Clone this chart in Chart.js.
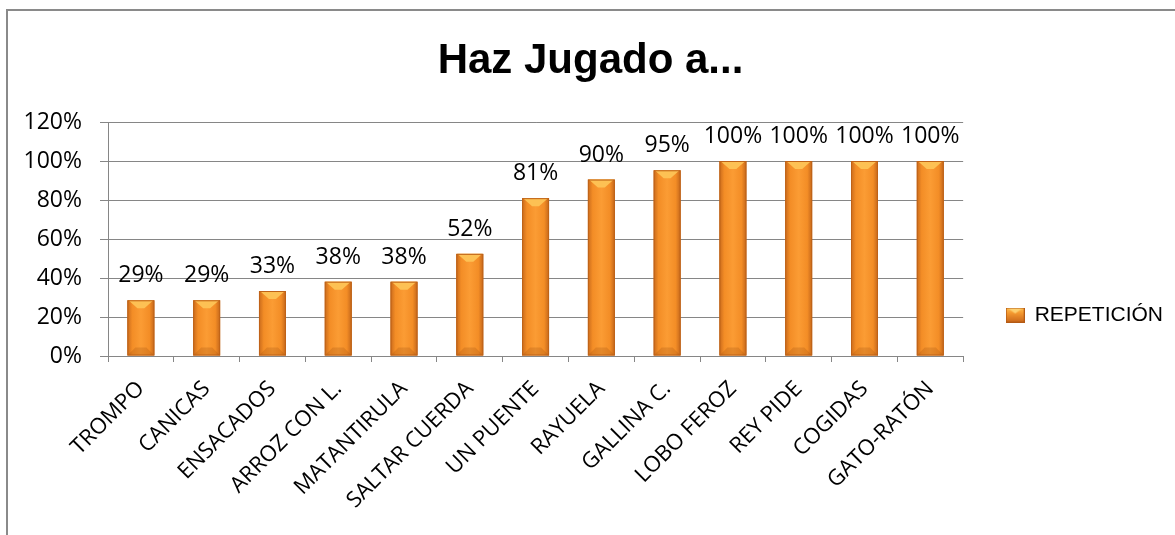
<!DOCTYPE html>
<html>

<head>
    <meta charset="utf-8">
    <script src="https://cdn.jsdelivr.net/npm/chart.js"></script>
    <style>
        html, body { margin: 0; padding: 0; background: #fff; }
        #wrap { position: relative; width: 1175px; height: 535px; overflow: hidden; }
        #frame { position: absolute; left: 6px; top: 9px; width: 1300px; height: 600px;
                 border-left: 2px solid #8a8a8a; border-top: 2px solid #8a8a8a; }
        canvas { position: absolute; left: 0; top: 0; }
    </style>
</head>

<body>
    <div id="wrap">
        <div id="frame"></div>
        <canvas id="chartId" width="1175" height="535"></canvas>
    </div>
    <script>
        // datos del grafico
        const categories = ['TROMPO', 'CANICAS', 'ENSACADOS', 'ARROZ CON L.', 'MATANTIRULA', 'SALTAR CUERDA',
            'UN PUENTE', 'RAYUELA', 'GALLINA C.', 'LOBO FEROZ', 'REY PIDE', 'COGIDAS', 'GATO-RATÓN'];
        const repeticion = [0.2857, 0.2857, 0.3333, 0.381, 0.381, 0.5238, 0.8095, 0.9048, 0.9524, 1, 1, 1, 1];
        const yTicks = [0, 0.2, 0.4, 0.6, 0.8, 1.0, 1.2];

        const pct = v => Math.round(v * 100) + '%';
        const gridColor = '#868686';
        const bodyFont = "'Open Sans', sans-serif";
        const titleFont = "'Liberation Sans', Arial, sans-serif";

        // pinta una barra con degradado y bisel al estilo Excel
        function paintBar(ctx, l, y, width, h) {
            const r = l + width;
            let g = ctx.createLinearGradient(l, 0, r, 0);
            g.addColorStop(0, '#c96a1c');
            g.addColorStop(0.18, '#f38d26');
            g.addColorStop(0.5, '#fb9c34');
            g.addColorStop(0.82, '#f38d26');
            g.addColorStop(1, '#c3661b');
            ctx.fillStyle = g;
            ctx.fillRect(l, y, width, h);
            const b = Math.min(8, h / 3);
            ctx.beginPath();
            ctx.moveTo(l + 1, y);
            ctx.lineTo(r - 1, y);
            ctx.lineTo(r - b - 2, y + b);
            ctx.lineTo(l + b + 2, y + b);
            ctx.closePath();
            ctx.fillStyle = '#fdc154';
            ctx.fill();
            ctx.beginPath();
            ctx.moveTo(l, y + h);
            ctx.lineTo(r, y + h);
            ctx.lineTo(r - b, y + h - b);
            ctx.lineTo(l + b, y + h - b);
            ctx.closePath();
            ctx.fillStyle = 'rgba(160,80,15,0.25)';
            ctx.fill();
            ctx.strokeStyle = '#bf6318';
            ctx.lineWidth = 1;
            ctx.strokeRect(l + 0.5, y + 0.5, width - 1, h - 1);
        }

        // marcador de la leyenda
        const marker = document.createElement('canvas');
        marker.width = 19;
        marker.height = 15;
        (function () {
            const c = marker.getContext('2d');
            const g = c.createLinearGradient(0, 0, 0, 15);
            g.addColorStop(0, '#fdc154');
            g.addColorStop(0.35, '#f59a30');
            g.addColorStop(1, '#c9661a');
            c.fillStyle = g;
            c.fillRect(0, 0, 19, 15);
            c.beginPath();
            c.moveTo(1, 0); c.lineTo(18, 0); c.lineTo(9.5, 6); c.closePath();
            c.fillStyle = '#fdd070';
            c.fill();
            c.strokeStyle = '#b45a14';
            c.strokeRect(0.5, 0.5, 18, 14);
        })();

        const barStyle = {
            id: 'barStyle',
            afterDatasetsDraw(chart) {
                const ctx = chart.ctx;
                const meta = chart.getDatasetMeta(0);
                meta.data.forEach((bar, i) => {
                    const { x, y, width, base } = bar.getProps(['x', 'y', 'width', 'base'], true);
                    ctx.save();
                    paintBar(ctx, x - width / 2, y, width, base - y);
                    ctx.restore();

                    // etiqueta de dato
                    ctx.save();
                    ctx.font = '23px ' + bodyFont;
                    ctx.fillStyle = '#000';
                    ctx.textAlign = 'center';
                    ctx.textBaseline = 'alphabetic';
                    ctx.fillText(pct(repeticion[i]), x, y - 18);
                    ctx.restore();
                });
            }
        };

        new Chart(document.getElementById('chartId'), {
            type: 'bar',
            data: {
                labels: categories,
                datasets: [{
                    label: 'REPETICIÓN',
                    data: repeticion,
                    backgroundColor: '#f39a35',
                    borderColor: '#b45a14',
                    borderWidth: 1,
                    pointStyle: marker,
                    categoryPercentage: 1,
                    barPercentage: 0.41
                }]
            },
            options: {
                responsive: false,
                animation: false,
                devicePixelRatio: 1,
                layout: { padding: { left: 8, right: 2, top: 0, bottom: 0 } },
                plugins: {
                    title: {
                        display: true,
                        text: 'Haz Jugado a...',
                        color: '#000',
                        font: { family: titleFont, size: 42, weight: 'bold', lineHeight: 1.2 },
                        padding: { top: 36, bottom: 35.6 }
                    },
                    legend: {
                        position: 'right',
                        title: { display: true, text: '', font: { size: 1, lineHeight: 1 }, padding: { top: 0, bottom: 94 } },
                        labels: {
                            color: '#000',
                            font: { family: titleFont, size: 21 },
                            usePointStyle: true,
                            pointStyleWidth: 18,
                            boxHeight: 15,
                            padding: 43
                        }
                    },
                    tooltip: { enabled: false }
                },
                scales: {
                    x: {
                        afterFit: s => { s.height = 179; },
                        grid: { display: true, drawOnChartArea: false, color: gridColor, tickLength: 6, offset: true },
                        border: { color: gridColor },
                        ticks: {
                            color: '#000', autoSkip: false, minRotation: 45, maxRotation: 45,
                            font: { family: bodyFont, size: 22 }, padding: 14
                        }
                    },
                    y: {
                        min: 0,
                        max: 1.2,
                        afterFit: s => { s.width = 100; },
                        afterBuildTicks: s => { s.ticks = yTicks.map(v => ({ value: v })); },
                        grid: { color: gridColor, tickLength: 8 },
                        border: { color: gridColor },
                        ticks: {
                            color: '#000', padding: 18,
                            font: { family: bodyFont, size: 23 },
                            callback: v => pct(v)
                        }
                    }
                }
            },
            plugins: [barStyle]
        });
    </script>
</body>

</html>
